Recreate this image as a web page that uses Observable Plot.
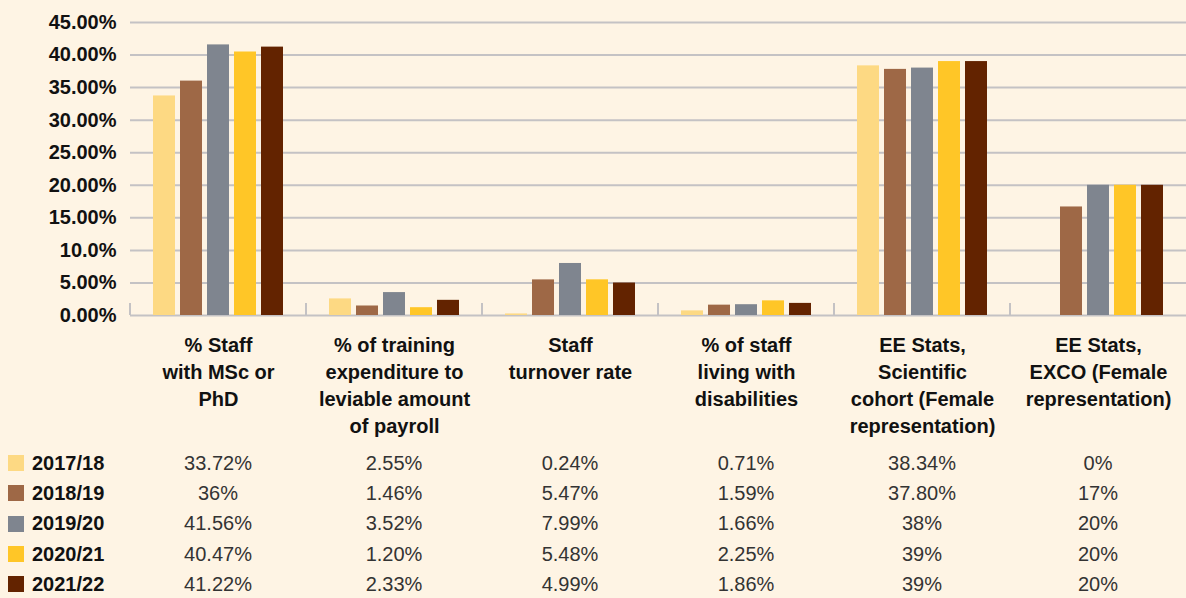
<!DOCTYPE html>
<html>
<head>
<meta charset="utf-8">
<script src="https://cdn.jsdelivr.net/npm/d3@7"></script>
<script src="https://cdn.jsdelivr.net/npm/@observablehq/plot@0.6"></script>
<style>
  html, body { margin: 0; padding: 0; background: #fef4e4; }
  body { width: 1186px; height: 598px; overflow: hidden; font-family: "Liberation Sans", Arial, sans-serif; }
  #chart svg { display: block; background: #fef4e4; }
  #table { display: grid; grid-template-columns: 130px repeat(6, 176px); grid-auto-rows: 30.3px; padding-top: 3px; }
  .yr { display: flex; align-items: center; font-weight: bold; font-size: 20px; color: #111; }
  .sw { width: 16px; height: 16px; margin-left: 8px; margin-right: 8px; flex: none; }
  .val { display: flex; align-items: center; justify-content: center; font-size: 20px; color: #333; }
</style>
</head>
<body>
<div id="chart"></div>
<div id="table"></div>
<script>
const categories = [
  "% Staff\nwith MSc or\nPhD",
  "% of training\nexpenditure to\nleviable amount\nof payroll",
  "Staff\nturnover rate",
  "% of staff\nliving with\ndisabilities",
  "EE Stats,\nScientific\ncohort (Female\nrepresentation)",
  "EE Stats,\nEXCO (Female\nrepresentation)"
];
const years = ["2017/18", "2018/19", "2019/20", "2020/21", "2021/22"];
const colors = ["#fdd983", "#9e6846", "#7f858f", "#ffc627", "#632300"];
// bar values (percent), one array per year, in category order
const v2017 = [33.72, 2.55, 0.24, 0.71, 38.34, 0];
const v2018 = [36, 1.46, 5.47, 1.59, 37.80, 16.67];
const v2019 = [41.56, 3.52, 7.99, 1.66, 38, 20];
const v2020 = [40.47, 1.20, 5.48, 2.25, 39, 20];
const v2021 = [41.22, 2.33, 4.99, 1.86, 39, 20];
// table labels as printed
const t2017 = ["33.72%", "2.55%", "0.24%", "0.71%", "38.34%", "0%"];
const t2018 = ["36%", "1.46%", "5.47%", "1.59%", "37.80%", "17%"];
const t2019 = ["41.56%", "3.52%", "7.99%", "1.66%", "38%", "20%"];
const t2020 = ["40.47%", "1.20%", "5.48%", "2.25%", "39%", "20%"];
const t2021 = ["41.22%", "2.33%", "4.99%", "1.86%", "39%", "20%"];
const yTicks = [0, 5, 10, 15, 20, 25, 30, 35, 40, 45];
const yLabels = ["0.00%", "5.00%", "10.0%", "15.00%", "20.00%", "25.00%", "30.00%", "35.00%", "40.00%", "45.00%"];

const series = [v2017, v2018, v2019, v2020, v2021];
const texts = [t2017, t2018, t2019, t2020, t2021];
const data = [];
years.forEach((yr, i) => categories.forEach((c, j) => data.push({category: c, year: yr, value: series[i][j]})));

const plot = Plot.plot({
  width: 1186,
  height: 445,
  marginTop: 22,
  marginBottom: 130,
  marginLeft: 130,
  marginRight: 0,
  style: {background: "#fef4e4", fontFamily: "Liberation Sans, Arial, sans-serif"},
  fx: {domain: categories, paddingInner: 0, paddingOuter: 0, round: false, label: null},
  x: {domain: years, paddingInner: 0.185, paddingOuter: 0.852, round: false, axis: null},
  y: {domain: [0, 45], label: null},
  color: {domain: years, range: colors},
  marks: [
    Plot.ruleY(yTicks, {stroke: "#c4c2c4", strokeWidth: 2}),
    Plot.barY(data, {fx: "category", x: "year", y: "value", fill: "year"}),
    Plot.axisY({ticks: yTicks, tickFormat: (d, i) => yLabels[yTicks.indexOf(d)], tickSize: 0, tickPadding: 14, fontSize: 20, fontWeight: "bold", fill: "#111", label: null}),
    Plot.axisFx({anchor: "bottom", tickSize: 0, tickPadding: 17, fontSize: 20, fontWeight: "bold", fill: "#111", lineHeight: 1.35, label: null, lineAnchor: "top"})
  ]
});
document.getElementById("chart").appendChild(plot);

// small separators at category boundaries
const fxs = plot.scale("fx");
const ys = plot.scale("y");
const fxScale = d3.scaleBand().domain(fxs.domain).range(fxs.range).paddingInner(0).paddingOuter(0);
const svg = d3.select(plot);
const y0 = d3.scaleLinear().domain(ys.domain).range(ys.range)(0);
categories.forEach(c => {
  const xx = fxScale(c);
  svg.append("line").attr("x1", xx).attr("x2", xx).attr("y1", y0 - 12).attr("y2", y0)
    .attr("stroke", "#c4c2c4").attr("stroke-width", 2);
});

// data table
const table = d3.select("#table");
years.forEach((yr, i) => {
  const cell = table.append("div").attr("class", "yr");
  cell.append("div").attr("class", "sw").style("background", colors[i]);
  cell.append("span").text(yr);
  texts[i].forEach(t => table.append("div").attr("class", "val").text(t));
});
</script>
</body>
</html>
